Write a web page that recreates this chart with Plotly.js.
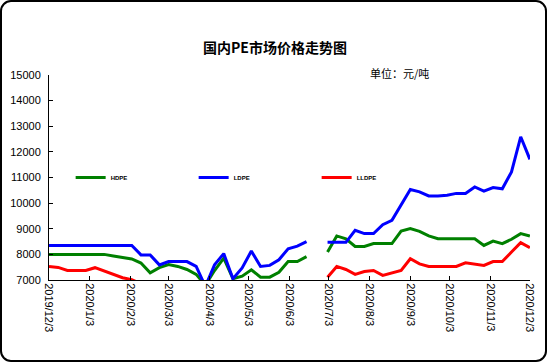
<!DOCTYPE html>
<html>
<head>
<meta charset="utf-8">
<script src="https://cdn.plot.ly/plotly-3.0.1.min.js"></script>
<style>
  html, body { margin: 0; padding: 0; background: #ffffff; }
  #wrap { position: relative; width: 550px; height: 364px; overflow: hidden; background: #fff; }
  #chart { position: absolute; left: 0; top: 0; width: 550px; height: 364px; }
  #frame { position: absolute; left: 0px; top: 0px; width: 547px; height: 362px; box-sizing: border-box;
           border: 2px solid #000; border-radius: 11px; pointer-events: none; }
</style>
</head>
<body>
<div id="wrap">
  <div id="chart"></div>
  <div id="frame"></div>
</div>
<script>
// Dates of the weekly observations (null entry breaks the line)
const dates = [
  '2019-12-03','2019-12-10','2019-12-17','2019-12-24','2019-12-31',
  '2020-01-07','2020-01-14','2020-01-21','2020-01-28',
  '2020-02-04','2020-02-11','2020-02-18','2020-02-25',
  '2020-03-03','2020-03-10','2020-03-17','2020-03-24','2020-03-31',
  '2020-04-07','2020-04-14','2020-04-21','2020-04-28',
  '2020-05-05','2020-05-12','2020-05-19','2020-05-26',
  '2020-06-02','2020-06-09','2020-06-16',
  '2020-06-24',
  '2020-07-02','2020-07-09','2020-07-16','2020-07-23','2020-07-30',
  '2020-08-06','2020-08-13','2020-08-20','2020-08-27',
  '2020-09-03','2020-09-10','2020-09-17','2020-09-24',
  '2020-10-01','2020-10-08','2020-10-15','2020-10-22','2020-10-29',
  '2020-11-05','2020-11-12','2020-11-19','2020-11-26',
  '2020-12-03'
];

const hdpe = [
  8000, 8000, 8000, 8000, 8000, 8000, 8000, 7940, 7880, 7820,
  7660, 7280, 7480, 7600, 7530, 7410, 7220, 6800, 7370, 7850,
  7050, 7150, 7400, 7110, 7110, 7300, 7720, 7720, 7910,
  null,
  8090, 8720, 8610, 8310, 8310, 8420, 8420, 8420, 8910, 9010,
  8900, 8720, 8610, 8610, 8610, 8610, 8610, 8350, 8520, 8420,
  8590, 8810, 8720
];

const ldpe = [
  8350, 8350, 8350, 8350, 8350, 8350, 8350, 8350, 8350, 8350,
  7980, 7980, 7590, 7720, 7720, 7720, 7530, 6750, 7590, 8030,
  7050, 7470, 8130, 7530, 7570, 7790, 8220, 8320, 8500,
  null,
  8470, 8470, 8470, 8940, 8810, 8810, 9160, 9330, 9920, 10530,
  10440, 10280, 10280, 10310, 10380, 10380, 10630, 10470, 10610, 10560,
  11220, 12590, 11710
];

const lldpe = [
  7530, 7490, 7370, 7370, 7370, 7480, 7340, 7200, 7090, 7010,
  6850, 6700, 6600, 6550, 6500, 6450, 6300, 6150, 6200, 6350,
  6450, 6500, 6550, 6600, 6650, 6700, 6750, 6800, 6800,
  null,
  7110, 7530, 7410, 7220, 7330, 7370, 7180, 7280, 7370, 7830,
  7630, 7530, 7530, 7530, 7530, 7670, 7630, 7570, 7720, 7720,
  8090, 8460, 8260
];

const seriesNames = ['HDPE', 'LDPE', 'LLDPE'];
const seriesColors = ['#008000', '#0000ff', '#ff0000'];

const tickVals = [
  '2019-12-03','2020-01-03','2020-02-03','2020-03-03','2020-04-03','2020-05-03','2020-06-03',
  '2020-07-03','2020-08-03','2020-09-03','2020-10-03','2020-11-03','2020-12-03'
];
const tickText = [
  '2019/12/3','2020/1/3','2020/2/3','2020/3/3','2020/4/3','2020/5/3','2020/6/3',
  '2020/7/3','2020/8/3','2020/9/3','2020/10/3','2020/11/3','2020/12/3'
];
const yTicks = [7000, 8000, 9000, 10000, 11000, 12000, 13000, 14000, 15000];
const yTickText = ['7000', '8000', '9000', '10000', '11000', '12000', '13000', '14000', '15000'];

const ys = [hdpe, ldpe, lldpe];
const traces = ys.map((y, k) => ({
  type: 'scatter',
  mode: 'lines',
  name: seriesNames[k],
  x: dates,
  y: y,
  connectgaps: false,
  line: { color: seriesColors[k], width: 3 },
  hoverinfo: 'skip'
}));

const tickFont = { family: 'Liberation Sans, Arial, sans-serif', size: 11, color: '#000' };

const layout = {
  width: 550,
  height: 364,
  margin: { l: 49, r: 20, t: 75, b: 84 },
  paper_bgcolor: '#ffffff',
  plot_bgcolor: '#ffffff',
  showlegend: true,
  title: {
    text: '<b>国内PE市场价格走势图</b>',
    font: { family: 'Noto Sans CJK SC, sans-serif', size: 14, color: '#000' },
    x: 0.5, xref: 'container', xanchor: 'center',
    y: 1 - 48 / 364, yref: 'container', yanchor: 'middle'
  },
  xaxis: {
    type: 'date',
    range: ['2019-12-03', '2020-12-03 02:00'],
    tickmode: 'array',
    tickvals: tickVals,
    ticktext: tickText,
    tickangle: 90,
    ticks: 'inside',
    ticklen: 4,
    tickcolor: '#000',
    showline: true,
    linecolor: '#000',
    linewidth: 1,
    showgrid: false,
    zeroline: false,
    tickfont: tickFont,
    fixedrange: true
  },
  yaxis: {
    range: [7000, 15000],
    tickmode: 'array',
    tickvals: yTicks,
    ticktext: yTickText,
    ticks: 'inside',
    ticklen: 4,
    tickcolor: '#000',
    showline: true,
    linecolor: '#000',
    linewidth: 1,
    showgrid: false,
    zeroline: false,
    tickfont: tickFont,
    ticklabelstandoff: 5,
    fixedrange: true
  },
  legend: {
    orientation: 'h',
    x: 0.045, xanchor: 'left',
    y: (280 - 177.5) / 205, yanchor: 'middle',
    bgcolor: 'rgba(0,0,0,0)',
    borderwidth: 0,
    entrywidth: 78,
    entrywidthmode: 'pixels',
    itemwidth: 30,
    font: { family: 'Liberation Sans, Arial, sans-serif', size: 6, color: '#000', weight: 'bold' },
    traceorder: 'normal'
  },
  annotations: [{
    text: '单位：元/吨',
    xref: 'paper', yref: 'paper',
    x: (368 - 49) / 481, xanchor: 'left',
    y: (280 - 73) / 205, yanchor: 'middle',
    showarrow: false,
    font: { family: 'Noto Sans CJK SC, sans-serif', size: 11, color: '#000' }
  }]
};

Plotly.newPlot('chart', traces, layout, { displayModeBar: false, staticPlot: true });
</script>
</body>
</html>
